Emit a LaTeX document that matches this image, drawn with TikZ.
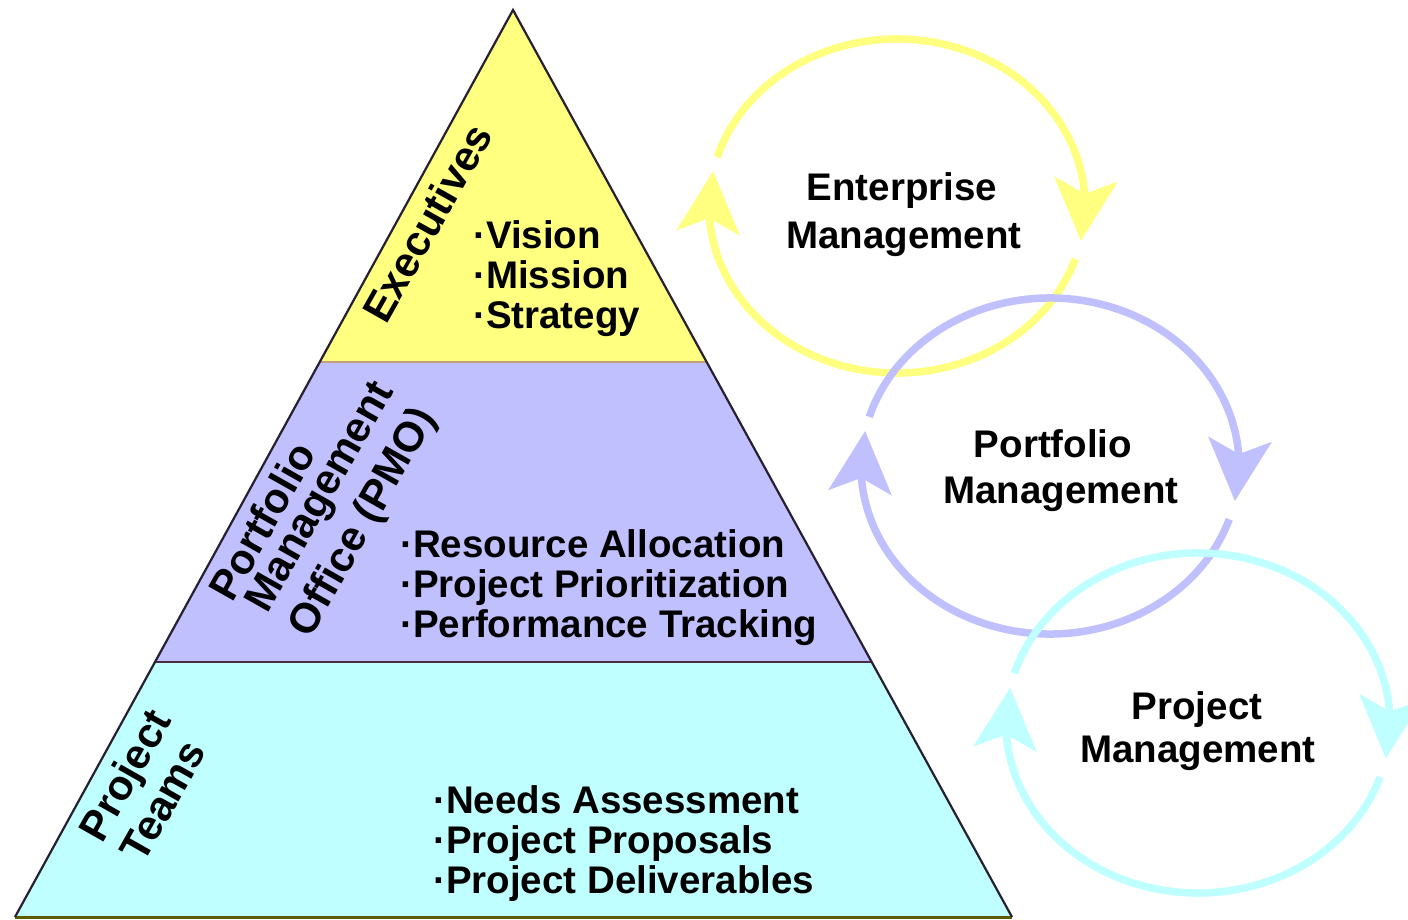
\documentclass[tikz,border=0pt]{standalone}
\usepackage{fontspec}
\setmainfont{Liberation Sans}
\usetikzlibrary{arrows.meta,bending,calc}

\definecolor{execfill}{HTML}{FFFF80}
\definecolor{pmofill}{HTML}{C0C0FF}
\definecolor{teamfill}{HTML}{C0FFFF}
\definecolor{edgeink}{HTML}{262030}
\definecolor{tanline}{HTML}{C4A07C}
\definecolor{plumline}{HTML}{4A2E48}
\definecolor{oliveline}{HTML}{5E5E00}

\tikzset{
  txt/.style={font=\fontsize{38.5pt}{40pt}\selectfont\bfseries, inner sep=0pt, text=black},
  bullets/.style={txt, anchor=base west},
  looplabel/.style={txt, anchor=base},
  sidelabel/.style={txt, font=\fontsize{42pt}{44pt}\selectfont\bfseries, rotate=60.5, anchor=center},
  loopline/.style={line width=7.5pt},
  loophead/.style={-{Stealth[flex, length=62pt, width=64pt, inset=15pt, line width=0pt]}},
}

% one management cycle: two arcs of an ellipse, each ending in an arrow head
% #1 colour, #2 centre, #3 x radius, #4 y radius
\newcommand\drawloop[4]{%
  \draw[loopline, draw=#1, fill=none, loophead]
    ($(#2)+(197:#3 and #4)$) arc[start angle=197, end angle=372, x radius=#3, y radius=#4];
  \draw[loopline, draw=#1, fill=none, loophead]
    ($(#2)+(18.5:#3 and #4)$) arc[start angle=18.5, end angle=192, x radius=#3, y radius=#4];
}

\begin{document}
\begin{tikzpicture}[x=1pt, y=-1pt]
  \useasboundingbox[fill=white] (0,0) rectangle (1408,920);

  % pyramid corners and band boundaries
  \coordinate (apex) at (513,10);
  \coordinate (bl) at (15,917);
  \coordinate (br) at (1012,917);
  \coordinate (yl) at (319.7,362);
  \coordinate (yr) at (706.7,362);
  \coordinate (ml) at (155,662);
  \coordinate (mr) at (871.7,662);

  \fill[execfill] (apex) -- (yr) -- (yl) -- cycle;
  \fill[pmofill] (yl) -- (yr) -- (mr) -- (ml) -- cycle;
  \fill[teamfill] (ml) -- (mr) -- (br) -- (bl) -- cycle;

  \draw[tanline, line width=2.4pt] (yl) -- (yr);
  \draw[plumline, line width=2.4pt] (ml) -- (mr);
  \draw[oliveline, line width=3pt] (bl) -- (br);
  \draw[edgeink, line width=2.2pt, line join=miter] (bl) -- (apex) -- (br);

  % level names along the left side
  \node[sidelabel] (exec) at (427,223) {Executives};
  \node[sidelabel] (pmo1) at (262,521) {Portfolio};
  \node[sidelabel] (pmo2) at (322,498) {Management};
  \node[sidelabel] (pmo3) at (364,523) {Office (PMO)};
  \node[sidelabel] (team1) at (128,777) {Project};
  \node[sidelabel] (team2) at (163,801) {Teams};

  % responsibilities of each level
  \node[bullets] (vision) at (473,248) {·Vision};
  \node[bullets] (mission) at (473,288) {·Mission};
  \node[bullets] (strategy) at (473,328) {·Strategy};

  \node[bullets] (resource) at (400,557) {·Resource Allocation};
  \node[bullets] (prior) at (400,597) {·Project Prioritization};
  \node[bullets] (perf) at (400,637) {·Performance Tracking};

  \node[bullets] (needs) at (433,813) {·Needs Assessment};
  \node[bullets] (proposals) at (433,853) {·Project Proposals};
  \node[bullets] (deliver) at (433,893) {·Project Deliverables};

  % management cycles
  \coordinate (entc) at (897,206);
  \coordinate (portc) at (1050,466);
  \coordinate (projc) at (1198,723);
  \drawloop{execfill}{entc}{188}{167}
  \drawloop{pmofill}{portc}{189}{168}
  \drawloop{teamfill}{projc}{192}{170}

  \node[looplabel] (ent1) at (902,201) {Enterprise};
  \node[looplabel] (ent2) at (904,248) {Management};
  \node[looplabel] (port1) at (1053,457) {Portfolio};
  \node[looplabel] (port2) at (1061,503) {Management};
  \node[looplabel] (proj1) at (1197,719) {Project};
  \node[looplabel] (proj2) at (1198,762) {Management};
\end{tikzpicture}
\end{document}
